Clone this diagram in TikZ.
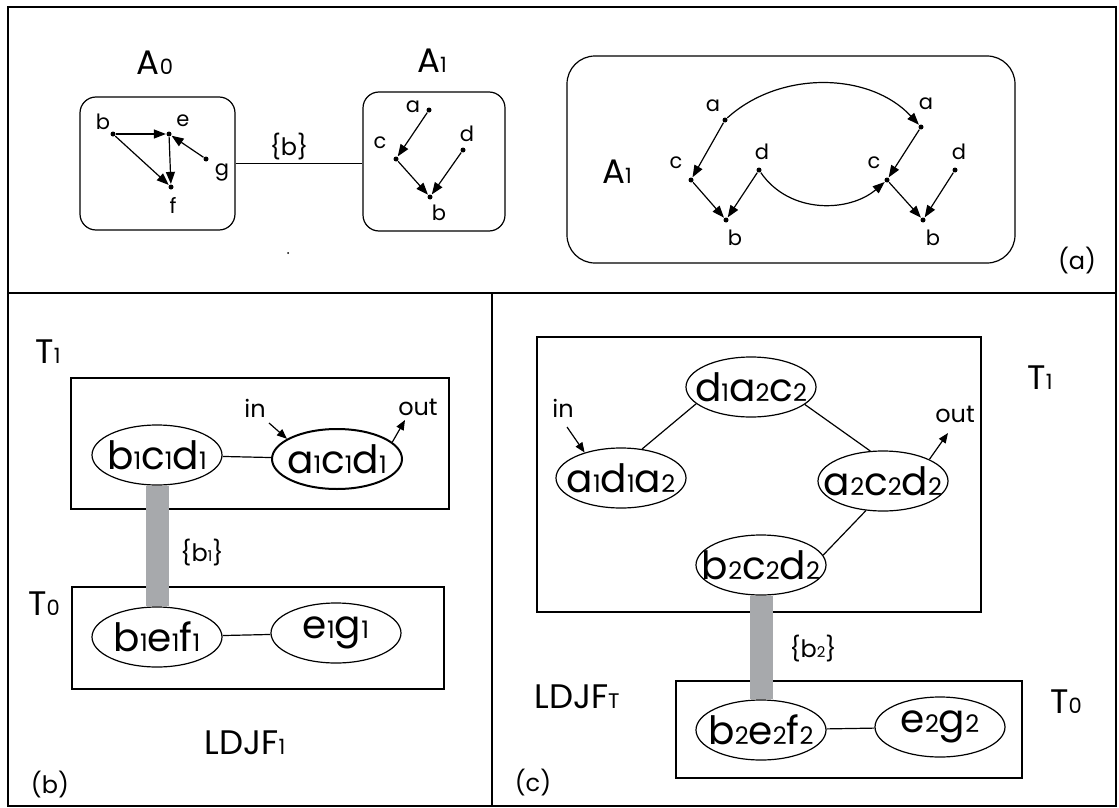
\documentclass[tikz,border=0pt]{standalone}
\usepackage{fontspec}
\setmainfont{Poppins}
\usetikzlibrary{arrows.meta,shapes.geometric}
\definecolor{bargray}{RGB}{167,169,172}
\newcommand{\fsz}[1]{\fontsize{#1}{#1}\selectfont}
\newcommand{\lo}[1]{\scalebox{0.62}{#1}}

\begin{document}
\begin{tikzpicture}[
  x=1pt, y=-1pt,
  line width=1.2pt,
  vdot/.style={circle, fill, inner sep=0pt, minimum size=5pt},
  lbl/.style={inner sep=0pt, font=\fsz{21}},
  graphname/.style={inner sep=0pt, font=\fsz{34}},
  big/.style={inner sep=0pt, font=\fsz{34}},
  tag/.style={inner sep=0pt, font=\fsz{24}},
  iolbl/.style={inner sep=0pt, font=\fsz{24}},
  setlbl/.style={inner sep=0pt, font=\fsz{24}},
  gbox/.style={draw, rounded corners=16pt, inner sep=0pt},
  tbox/.style={draw, inner sep=0pt},
  clique/.style={draw, ellipse, inner xsep=-16pt, inner ysep=-4pt, minimum width=130pt,
                 minimum height=60pt, font=\fsz{39}},
  dep/.style={-{Triangle[length=12pt,width=9pt]}},
  inout/.style={-{Triangle[length=10pt,width=8pt]}},
  sepbar/.style={line width=23pt, draw=bargray}
]
  \useasboundingbox (0,0) rectangle (1119,808);
  % frame
  \draw[line width=1.8pt] (8,7) rectangle (1116,806);
  \draw[line width=1.8pt] (8,293) -- (1116,293);
  \draw[line width=1.8pt] (492,293) -- (492,806);

  % (a) A0 and A1
  \node[graphname] (na0) at (155,63) {A\lo{0}};
  \node[gbox, minimum width=155pt, minimum height=133pt] (ga0) at (157.5,163.5) {};
  \node[vdot] (b0) at (113,134) {};
  \node[vdot] (e0) at (169,134) {};
  \node[vdot] (g0) at (206,159) {};
  \node[vdot] (f0) at (171,187) {};
  \node[lbl] (lb0) at (103,122) {b};
  \node[lbl] (le0) at (183,121) {e};
  \node[lbl] (lg0) at (222,172) {g};
  \node[lbl] (lf0) at (173,205) {f};
  \draw[dep] (b0) -- (e0);
  \draw[dep] (b0) -- (f0);
  \draw[dep] (e0) -- (f0);
  \draw[dep] (g0) -- (e0);

  \node[graphname] (na1) at (432,61) {A\lo{1}};
  \node[gbox, minimum width=142pt, minimum height=139pt] (ga1) at (434,161.5) {};
  \node[vdot] (a1) at (429,110) {};
  \node[vdot] (c1) at (396,159) {};
  \node[vdot] (d1) at (463,150) {};
  \node[vdot] (b1) at (430,197) {};
  \node[lbl] (la1) at (413,107) {a};
  \node[lbl] (lc1) at (380,143) {c};
  \node[lbl] (ld1) at (467,134) {d};
  \node[lbl] (lb1) at (439,213) {b};
  \draw[dep] (a1) -- (c1);
  \draw[dep] (c1) -- (b1);
  \draw[dep] (d1) -- (b1);
  \draw (ga0.east) -- (ga0.east -| ga1.west);
  \node[setlbl] (sepa) at (289,147) {\{b\}};
  \node[circle, fill, inner sep=0pt, minimum size=2pt] (spot) at (288,253) {};

  % (a) unrolled A1
  \node[gbox, rounded corners=28pt, minimum width=448pt, minimum height=207pt] (ga2) at (791,159.5) {};
  \node[graphname] (na2) at (617,172) {A\lo{1}};
  \node[vdot] (ra1) at (725,120) {};
  \node[vdot] (rc1) at (691,180) {};
  \node[vdot] (rd1) at (759,170) {};
  \node[vdot] (rb1) at (726,220) {};
  \node[vdot] (ra2) at (921,127) {};
  \node[vdot] (rc2) at (887,180) {};
  \node[vdot] (rd2) at (955,170) {};
  \node[vdot] (rb2) at (923,220) {};
  \node[lbl] (lra1) at (713,106) {a};
  \node[lbl] (lrc1) at (676,163) {c};
  \node[lbl] (lrd1) at (762,152) {d};
  \node[lbl] (lrb1) at (735,238) {b};
  \node[lbl] (lra2) at (926,104) {a};
  \node[lbl] (lrc2) at (874,163) {c};
  \node[lbl] (lrd2) at (959,152) {d};
  \node[lbl] (lrb2) at (933,238) {b};
  \draw[dep] (ra1) -- (rc1);
  \draw[dep] (rc1) -- (rb1);
  \draw[dep] (rd1) -- (rb1);
  \draw[dep] (ra2) -- (rc2);
  \draw[dep] (rc2) -- (rb2);
  \draw[dep] (rd2) -- (rb2);
  \draw[dep] (ra1) .. controls (780,70) and (870,72) .. (ra2);
  \draw[dep] (rd1) .. controls (790,215) and (850,212) .. (rc2);
  \node[tag] (capa) at (1077,261) {(a)};

  % (b) LDJF1
  \node[big] (t1b) at (48,352) {T\lo{1}};
  \node[tbox, minimum width=378pt, minimum height=131pt] (bx1b) at (260,443.5) {};
  \node[clique] (bcd) at (157,455) {b\lo{1}c\lo{1}d\lo{1}};
  \node[clique, line width=2pt] (acd) at (337,459) {a\lo{1}c\lo{1}d\lo{1}};
  \draw (bcd) -- (acd);
  \node[iolbl] (inb) at (255,408) {in};
  \coordinate (inbs) at (269,423);
  \draw[inout] (inbs) -- (acd.158);
  \node[iolbl] (outb) at (418,407) {out};
  \coordinate (outbe) at (405,420);
  \draw[inout] (acd.17) -- (outbe);
  \node[big] (t0b) at (44,604) {T\lo{0}};
  \node[tbox, minimum width=372pt, minimum height=102pt] (bx0b) at (258,638) {};
  \node[clique] (bef) at (157,637) {b\lo{1}e\lo{1}f\lo{1}};
  \node[clique] (eg) at (336,633) {e\lo{1}g\lo{1}};
  \draw (bef) -- (eg);
  \draw[sepbar] (bcd.south) -- (bef.north);
  \node[setlbl] (sepb) at (202,553) {\{b\lo{1}\}};
  \node[big] (ldjf1) at (245,743) {LDJF\lo{1}};
  \node[tag] (capb) at (50,785) {(b)};

  % (c) LDJFT
  \node[tbox, minimum width=444pt, minimum height=275pt] (bx1c) at (759,474.5) {};
  \node[big] (t1c) at (1040,378) {T\lo{1}};
  \node[clique] (dac) at (751,387) {d\lo{1}a\lo{2}c\lo{2}};
  \node[clique] (ada) at (621,478) {a\lo{1}d\lo{1}a\lo{2}};
  \node[clique] (acd2) at (883,481) {a\lo{2}c\lo{2}d\lo{2}};
  \node[clique] (bcd2) at (761,565) {b\lo{2}c\lo{2}d\lo{2}};
  \draw (dac.197) -- (ada.54);
  \draw (dac.342) -- (acd2.113);
  \draw (acd2.240) -- (bcd2.9);
  \node[iolbl] (inc) at (563,408) {in};
  \coordinate (incs) at (567,427);
  \draw[inout] (incs) -- (ada.145);
  \node[iolbl] (outc) at (955,414) {out};
  \coordinate (outce) at (948,433);
  \draw[inout] (acd2.25) -- (outce);
  \node[tbox, minimum width=346pt, minimum height=97pt] (bx0c) at (849,729.5) {};
  \node[big] (t0c) at (1066,702) {T\lo{0}};
  \node[clique] (bef2) at (761,730) {b\lo{2}e\lo{2}f\lo{2}};
  \node[clique] (eg2) at (940,727) {e\lo{2}g\lo{2}};
  \draw (bef2) -- (eg2);
  \draw[sepbar] (bcd2.south) -- (bef2.north);
  \node[setlbl] (sepc) at (813,649) {\{b\lo{2}\}};
  \node[big] (ldjft) at (577,697) {LDJF\lo{T}};
  \node[tag] (capc) at (533,783) {(c)};
\end{tikzpicture}
\end{document}
